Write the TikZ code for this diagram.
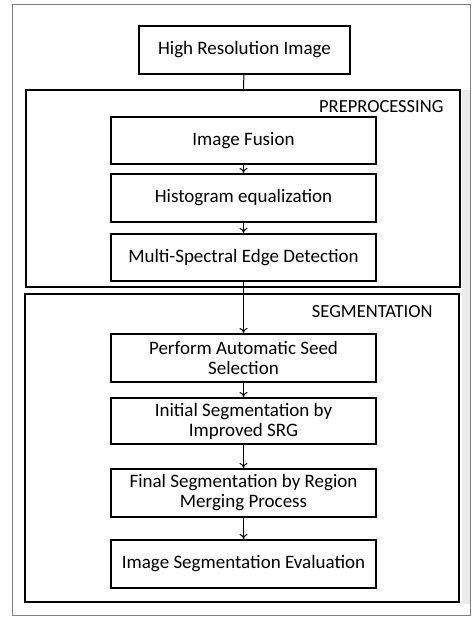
\documentclass[tikz,border=0pt]{standalone}
\usepackage{fontspec}
\setmainfont{Carlito}
\usetikzlibrary{arrows.meta}
\begin{document}
\begin{tikzpicture}[x=1pt,y=-1pt,
  stepbox/.style={draw,line width=2.2pt,minimum width=265pt,inner sep=0pt,align=center,font=\fontsize{19}{20}\selectfont},
  group/.style={draw,line width=1.6pt},
  lbl/.style={font=\fontsize{18.5}{20}\selectfont,anchor=east},
  conn/.style={line width=1pt,-{To[length=5pt,width=8pt]}}]
\useasboundingbox (0,0) rectangle (476,618);
\draw[line width=0.6pt,gray] (12,4) rectangle (470,615);
\fill[gray!15] (462,90) rectangle (470,604);
% containers
\draw[group] (26,90) rectangle (460,287);
\draw[group] (25,294) rectangle (459,602);
\node[lbl] (pre) at (447,107) {PREPROCESSING};
\node[lbl] (seg) at (436,312) {SEGMENTATION};
% step boxes
\node[stepbox,minimum width=211pt,minimum height=48pt] (hri) at (244.5,50) {High Resolution Image};
\node[stepbox,minimum height=47pt] (fus) at (243.5,140.5) {Image Fusion};
\node[stepbox,minimum height=48pt] (his) at (243.5,198) {Histogram equalization};
\node[stepbox,minimum height=47pt] (mse) at (243.5,257.5) {Multi-Spectral Edge Detection};
\node[stepbox,minimum height=48pt] (pas) at (243.5,358) {Perform Automatic Seed\\Selection};
\node[stepbox,minimum height=46pt] (ini) at (243.5,421) {Initial Segmentation by\\Improved SRG};
\node[stepbox,minimum height=48pt] (fin) at (243.5,493) {Final Segmentation by Region\\Merging Process};
\node[stepbox,minimum height=48pt] (eva) at (243.5,564) {Image Segmentation Evaluation};
\coordinate (pretop) at (243.5,90);
\draw[line width=1pt] (hri) -- (pretop);
\draw[conn] (fus) -- (his);
\draw[conn] (his) -- (mse);
\draw[conn] (mse) -- (pas);
\draw[conn] (pas) -- (ini);
\draw[conn] (ini) -- (fin);
\draw[conn] (fin) -- (eva);
\end{tikzpicture}
\end{document}
